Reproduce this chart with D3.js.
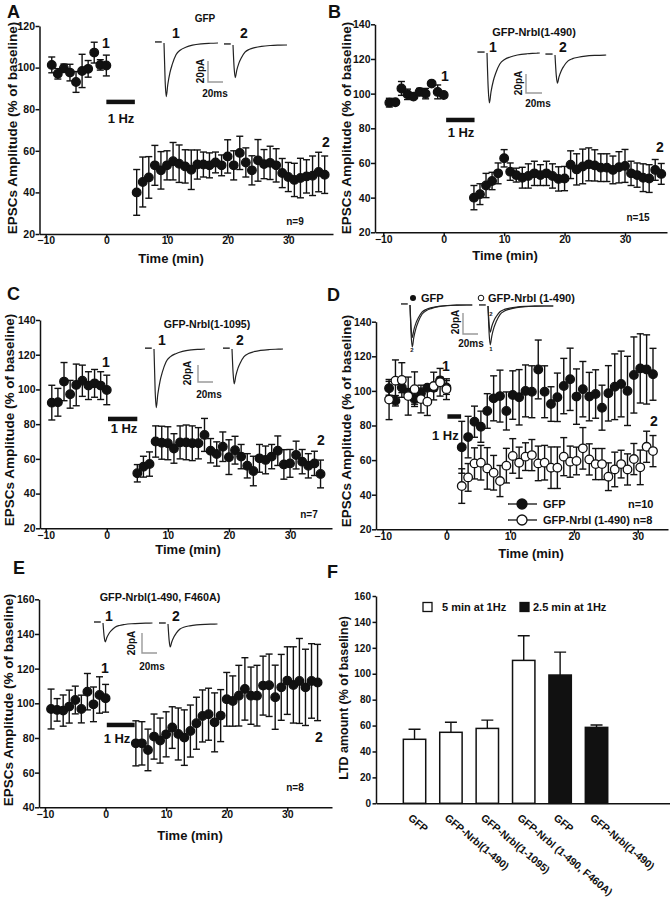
<!DOCTYPE html>
<html><head><meta charset="utf-8">
<script src="https://cdn.jsdelivr.net/npm/d3@7"></script>
<style>
body{margin:0;background:#fff}
svg text{font-family:"Liberation Sans",Arial,Helvetica,sans-serif;font-weight:bold;fill:#111}
</style></head>
<body><svg id="fig" width="670" height="899"></svg>
<script>
// ---------------- DATA ----------------
const xTickValues = [-10, 0, 10, 20, 30];

// Panel A  (GFP)
const A_time = [-9,-8,-7,-6,-5,-4,-3,-2,-1,0,5,6,7,8,9,10,11,12,13,14,15,16,17,18,19,20,21,22,23,24,25,26,27,28,29,30,31,32,33,34,35,36];
const A_mean = [101.3,97,99.7,97.6,93.1,98.4,99.4,107.2,101.3,101,
  40,45,47.2,53,50.6,53,55,53.8,52.5,50.9,53.4,53.4,53,54.4,53,57.3,53,59,54.4,50.6,55.4,53.6,54.2,53,49.3,47.4,46,46.9,47.7,48,49.8,48.5];
const A_sem = [3.8,2.5,2,4,5,8,4,5,2.5,5,
  11,12,10,9.6,9,7,9,9,8,9.5,7,6,6,5,5,8,7,8,7,7,10,7,8,8,7,7,8,9.5,8,9.5,9.5,9];

// Panel B  (GFP-Nrbl(1-490))
const B_time = [-9,-8,-7,-6,-5,-4,-3,-2,-1,0,5,6,7,8,9,10,11,12,13,14,15,16,17,18,19,20,21,22,23,24,25,26,27,28,29,30,31,32,33,34,35,36];
const B_mean = [94.8,95,103,99.6,98.3,101,100,105.8,101,99.2,
  40,42,47,49.6,54,62.7,55,53,51.5,52.5,54,53,54,52.5,50.8,51,59,56.3,58,59.2,58.6,57.3,57.3,56,57.5,58.3,54,53,51.5,51,56,53.7];
const B_sem = [2.5,1,4,3,1,2,3,1,4,1.5,
  7,6,7,5,6,5,5,4,6,7,7,6,7,7,7,7,8,9,10,9.5,9,8,8,8,9,9.5,7,7,8,8,6,6];

// Panel C  (GFP-Nrbl(1-1095))
const C_time = [-9,-8,-7,-6,-5,-4,-3,-2,-1,0,5,6,7,8,9,10,11,12,13,14,15,16,17,18,19,20,21,22,23,24,25,26,27,28,29,30,31,32,33,34,35];
const C_mean = [92.4,92.6,104.5,97.2,102.6,105,102.2,103.5,102.2,99.7,
  51.7,55.5,57,70,69.3,69,66,69.5,69.5,69,69,73.8,64.7,62.8,67,61,65,61.3,56,53,60.3,59.4,61.3,64.7,56.8,57.4,62.2,58.4,56,57.4,51.3];
const C_sem = [10,8,11,8,12,9,8,8,8,8.5,
  5,6,7,9,9.5,9.5,8.5,9.5,10,10,9,9.5,7,7,8.5,10,8,7,7,8.5,8,8,7,8.5,8.5,8,8,7,7,7,8];

// Panel D  (2.5 min at 1 Hz)
const D_time = [-9,-8,-7,-6,-5,-4,-3,-2,-1,0,2.4,3.4,4.4,5.4,6.4,7.4,8.4,9.4,10.4,11.4,12.4,13.4,14.4,15.4,16.4,17.4,18.4,19.4,20.4,21.4,22.4,23.4,24.4,25.4,26.4,27.4,28.4,29.4,30.4,31.4,32.4];
const D_gfp_mean = [101.5,94.3,102,99,95.3,98.6,101.8,101.8,106,102,
  67.4,73.3,82.2,79.3,88.4,95.7,97,88.4,97.6,96.3,100,99.5,112.4,99.5,92.4,96.3,102.8,106.7,96.7,101,96.7,98.2,90.3,98.6,102.4,104,100,109.2,113,112.4,109.6];
const D_gfp_sem = [4,3,3,2,3,3,1,2,2,4,
  15,12,9,9,10,13,15,11,14,16,15,15,17,15,10,14,16,18,16,16,14,14,13,16,19,19,20,22,20,20,15];
const D_nrbl_mean = [95,105.9,106.3,97,101,95.3,93.8,102.8,105,101,
  45,50,58.1,58.5,55.2,52.7,47.9,56.8,62.4,58.5,62,62.9,58.1,58.5,55.6,55.6,62,59.1,59.5,66.8,60.4,57.7,57.7,50.4,54.6,57.7,54.6,60.6,55.8,67.7,65.2];
const D_nrbl_sem = [11.6,12,10,11,10,8,8,8,8,6,
  10,8,9,10,12,10,9,10,10,9,8,9,10,10,12,12,11,9,8,12,9,9,9,8,10,8,9,9,10,9,9];

// Panel E  (GFP-Nrbl(1-490, F460A))
const E_time = [-9,-8,-7,-6,-5,-4,-3,-2,-1,0,5,6,7,8,9,10,11,12,13,14,15,16,17,18,19,20,21,22,23,24,25,26,27,28,29,30,31,32,33,34,35];
const E_mean = [96.7,96.2,95.8,98.1,101.9,96.7,106.7,99.4,104.8,102.9,
  76.9,76.9,73.1,80.8,78.5,82.1,86,82.3,80.2,84,88.5,92.7,93.7,89,92.9,102.3,101.3,104.4,108.3,104.4,104.4,110.2,110.4,103.5,109.2,113.1,110.6,112.9,109.2,112.9,112];
const E_sem = [11.5,6.5,9,9.5,8,8,10.5,10,10.5,8,
  13,12.5,12,13,13,13,12,15,16,15,15,15,15,17,15,15.5,14.5,17.5,18,16.5,17.5,17,18,18.5,19,19.5,22,24.5,22,21.5,22];

// Panel F  (LTD amount)
const F_labels = ["GFP","GFP-Nrbl(1-490)","GFP-Nrbl(1-1095)","GFP-Nrbl (1-490, F460A)","GFP","GFP-Nrbl(1-490)"];
const F_values = [49.4,54.8,57.8,110.3,99,58.6];
const F_errors = [7.7,7.7,6.4,19,17.7,1.8];
const F_protocol = ["5 min at 1Hz","5 min at 1Hz","5 min at 1Hz","5 min at 1Hz","2.5 min at 1Hz","2.5 min at 1Hz"];
const F_legend = ["5 min at 1Hz","2.5 min at 1Hz"];

// EPSC example trace shape (time in ms, fraction of peak)
const TRACE_MS   = [0,1.5,3,5,8,11,16,22,29,38,50,62,75,90];
const TRACE_FRAC = [0,0.7,1,0.78,0.55,0.4,0.22,0.13,0.08,0.04,0.015,0.005,0,0];

// ---------------- DRAWING ----------------
const svg = d3.select("#fig");
const INK = "#111";
const FONT_TICK = 10.5;

function text(x, y, s, size, anchor, extra) {
  const t = svg.append("text").attr("x", x).attr("y", y).text(s)
    .attr("font-size", size).attr("text-anchor", anchor || "start");
  if (extra) extra(t);
  return t;
}
function vtext(cx, cy, s, size) {
  return svg.append("text").attr("transform", `translate(${cx},${cy}) rotate(-90)`)
    .attr("text-anchor", "middle").attr("dy", "0.35em").attr("font-size", size).text(s);
}

function timePanel(p) {
  const x = d3.scaleLinear().domain([-10, 30]).range(p.xPx);
  const y = d3.scaleLinear().domain(p.yDomain).range([p.bottom, p.top]);
  const xAxisScale = x.copy().domain([x.invert(p.left), x.invert(p.right)]).range([p.left, p.right]);

  const gx = svg.append("g").attr("transform", `translate(0,${p.bottom})`)
    .call(d3.axisBottom(xAxisScale).tickValues(xTickValues).tickSize(4).tickSizeOuter(0).tickPadding(0));
  gx.selectAll("text").attr("y", 3).attr("dy", "0.71em").attr("font-size", FONT_TICK).attr("font-family", null);
  const gy = svg.append("g").attr("transform", `translate(${p.left},0)`)
    .call(d3.axisLeft(y).tickValues(d3.range(p.yDomain[0], p.yDomain[1] + 1, 20)).tickSize(4).tickSizeOuter(0).tickPadding(0));
  gy.selectAll("text").attr("x", -4.5).attr("font-size", FONT_TICK).attr("font-family", null);
  [gx, gy].forEach(g => {
    g.select(".domain").attr("stroke", INK).attr("stroke-width", 1.5);
    g.selectAll(".tick line").attr("stroke", INK).attr("stroke-width", 1.5);
    g.selectAll("text").style("fill", INK);
  });

  // stimulation bar
  svg.append("line").attr("x1", x(p.stim[0])).attr("x2", x(p.stim[1]))
    .attr("y1", y(p.stim[2])).attr("y2", y(p.stim[2]))
    .attr("stroke", INK).attr("stroke-width", 4.5);

  p.series.forEach(s => {
    const g = svg.append("g");
    const pts = s.time.map((t, i) => ({t, m: s.mean[i], e: s.sem[i]}));
    g.selectAll(".eb").data(pts).join("line")
      .attr("x1", d => x(d.t)).attr("x2", d => x(d.t))
      .attr("y1", d => y(d.m - d.e)).attr("y2", d => y(d.m + d.e))
      .attr("stroke", INK).attr("stroke-width", 1.4);
    ["lo", "hi"].forEach(k => {
      g.selectAll(".cap" + k).data(pts).join("line")
        .attr("x1", d => x(d.t) - 3.5).attr("x2", d => x(d.t) + 3.5)
        .attr("y1", d => y(k === "lo" ? d.m - d.e : d.m + d.e))
        .attr("y2", d => y(k === "lo" ? d.m - d.e : d.m + d.e))
        .attr("stroke", INK).attr("stroke-width", 1.4);
    });
    g.selectAll("circle").data(pts).join("circle")
      .attr("cx", d => x(d.t)).attr("cy", d => y(d.m)).attr("r", 4.3)
      .attr("fill", s.open ? "#fff" : INK).attr("stroke", INK).attr("stroke-width", 1.3);
  });
  return {x, y};
}

function trace(x0, y0, ampPA, lenMs, pxPerMs, pxPerPA, dashGap) {
  const tx = d3.scaleLinear().domain([0, 20]).range([x0, x0 + 20 * pxPerMs]);
  const ty = d3.scaleLinear().domain([0, 20]).range([y0, y0 + 20 * pxPerPA]);
  const pts = TRACE_MS.map((t, i) => [t, TRACE_FRAC[i] * ampPA]).filter(d => d[0] <= lenMs);
  pts.push([lenMs, 0]);
  svg.append("path").attr("d", d3.line().x(d => tx(d[0])).y(d => ty(d[1])).curve(d3.curveMonotoneX)(pts))
    .attr("fill", "none").attr("stroke", "#222").attr("stroke-width", 1.2);
  if (dashGap !== false) {
    svg.append("line").attr("x1", tx(-12)).attr("x2", tx(-3)).attr("y1", ty(-1)).attr("y2", ty(-1))
      .attr("stroke", "#222").attr("stroke-width", 1.4);
  }
}
function scaleBar(x0, yBottom, pxPerMs, pxPerPA) {
  const tx = d3.scaleLinear().domain([0, 20]).range([x0, x0 + 20 * pxPerMs]);
  const ty = d3.scaleLinear().domain([0, 20]).range([yBottom, yBottom - 20 * pxPerPA]);
  svg.append("path").attr("d", `M${tx(0)},${ty(20)}L${tx(0)},${ty(0)}L${tx(20)},${ty(0)}`)
    .attr("fill", "none").attr("stroke", "#9a9a9a").attr("stroke-width", 1.4);
}

// ---- Panel A
timePanel({left: 39.5, right: 333, top: 26, bottom: 234, xPx: [45.7, 288.3], yDomain: [20, 120],
  stim: [0, 4.7, 83.5], series: [{time: A_time, mean: A_mean, sem: A_sem}]});
vtext(12.5, 128, "EPSCs Amplitude (% of baseline)", 13.5);
text(171, 263, "Time (min)", 13, "middle");
text(106, 48, "1", 14, "middle"); text(326, 147, "2", 14, "middle");
text(121, 123, "1 Hz", 13, "middle");
text(295, 225, "n=9", 10, "middle");
text(205, 22, "GFP", 10, "middle");
text(176, 38, "1", 14, "middle"); text(244, 38, "2", 14, "middle");
trace(164, 43, 51, 72, 0.75, 1.05); trace(233, 45, 31, 72, 0.75, 1.05);
scaleBar(208, 82, 0.75, 1.05);
vtext(200, 71, "20pA", 10); text(215, 97, "20ms", 10, "middle");

// ---- Panel B
timePanel({left: 375, right: 667, top: 24.3, bottom: 232.3, xPx: [383.3, 625], yDomain: [20, 140],
  stim: [0.4, 5.1, 84.8], series: [{time: B_time, mean: B_mean, sem: B_sem}]});
vtext(346, 128, "EPSCs Amplitude (% of baseline)", 13.5);
text(505, 260, "Time (min)", 13, "middle");
text(445, 81, "1", 14, "middle"); text(660, 152, "2", 14, "middle");
text(461, 137, "1 Hz", 13, "middle");
text(638, 221, "n=15", 10, "middle");
text(534, 36, "GFP-Nrbl(1-490)", 11, "middle");
text(493, 52, "1", 14, "middle"); text(563, 52, "2", 14, "middle");
trace(487, 53, 52.6, 66, 0.8, 0.95); trace(555, 55, 29.5, 64, 0.8, 0.95);
scaleBar(526, 93, 0.8, 0.95);
vtext(518, 83, "20pA", 10); text(538, 107, "20ms", 10, "middle");

// ---- Panel C
timePanel({left: 40, right: 332, top: 320, bottom: 528.3, xPx: [45.7, 290], yDomain: [20, 140],
  stim: [0.2, 5, 83], series: [{time: C_time, mean: C_mean, sem: C_sem}]});
vtext(9, 420, "EPSCs Amplitude (% of baseline)", 13.5);
text(188, 554, "Time (min)", 13, "middle");
text(106, 367, "1", 14, "middle"); text(321, 445, "2", 14, "middle");
text(124, 433, "1 Hz", 13, "middle");
text(309, 518, "n=7", 10, "middle");
text(207, 328, "GFP-Nrbl(1-1095)", 10.6, "middle");
text(162, 345, "1", 14, "middle"); text(240, 345, "2", 14, "middle");
trace(154, 349, 69, 68, 0.75, 0.85); trace(232, 349, 41, 68, 0.75, 0.85);
scaleBar(198, 382, 0.75, 0.85);
vtext(187, 373, "20pA", 10); text(209, 398, "20ms", 10, "middle");

// ---- Panel D
timePanel({left: 376, right: 668, top: 321.7, bottom: 529.3, xPx: [382.7, 637.7], yDomain: [20, 140],
  stim: [0.15, 2.3, 85.2], series: [
    {time: D_time, mean: D_gfp_mean, sem: D_gfp_sem},
    {time: D_time, mean: D_nrbl_mean, sem: D_nrbl_sem, open: true}]});
vtext(346, 421, "EPSCs Amplitude (% of baseline)", 13.5);
text(531, 558, "Time (min)", 13, "middle");
text(446, 371, "1", 14, "middle"); text(654, 426, "2", 14, "middle");
text(432, 440, "1 Hz", 13, "start");
// legend
[["GFP", "n=10", false, 504], ["GFP-Nrbl (1-490)", "n=8", true, 520]].forEach(([lab, n, open, yy]) => {
  svg.append("line").attr("x1", 508).attr("x2", 537).attr("y1", yy).attr("y2", yy).attr("stroke", INK).attr("stroke-width", 1.3);
  svg.append("circle").attr("cx", 522).attr("cy", yy).attr("r", 5).attr("fill", open ? "#fff" : INK).attr("stroke", INK).attr("stroke-width", 1.3);
  text(543, yy + 4, lab, 11, "start");
  text(open ? 633 : 628, yy + 4, n, 11, "start");
});
// inset
svg.append("circle").attr("cx", 413).attr("cy", 298).attr("r", 3).attr("fill", INK);
text(421, 302, "GFP", 11, "start");
svg.append("circle").attr("cx", 481).attr("cy", 298).attr("r", 2.8).attr("fill", "#fff").attr("stroke", INK).attr("stroke-width", 1);
text(488, 302, "GFP-Nrbl (1-490)", 11, "start");
trace(410, 305, 31, 83, 0.75, 1.05); trace(410, 305, 40, 83, 0.75, 1.05, false);
trace(488, 306, 37, 87, 0.75, 1.05); trace(488, 306, 25, 87, 0.75, 1.05, false);
scaleBar(463, 334, 0.75, 1.05);
vtext(455, 322, "20pA", 10); text(471, 347, "20ms", 10, "middle");
text(412, 352, "2", 6, "middle"); text(491, 351, "1", 6, "middle"); text(491, 316, "2", 6, "middle");

// ---- Panel E
timePanel({left: 39, right: 332, top: 599.3, bottom: 807.3, xPx: [45, 287.3], yDomain: [40, 160],
  stim: [0.2, 4.8, 87.5], series: [{time: E_time, mean: E_mean, sem: E_sem}]});
vtext(8.5, 700, "EPSCs Amplitude (% of baseline)", 13.5);
text(190, 840, "Time (min)", 13, "middle");
text(105, 673, "1", 14, "middle"); text(319, 742, "2", 14, "middle");
text(117, 743, "1 Hz", 13, "middle");
text(295, 791, "n=8", 10, "middle");
text(160, 601, "GFP-Nrbl(1-490, F460A)", 10.8, "middle");
text(109, 621, "1", 14, "middle"); text(176, 621, "2", 14, "middle");
trace(103, 623, 19, 66, 0.75, 1.0); trace(168, 624, 23, 66, 0.75, 1.0);
scaleBar(142, 653, 0.75, 1.0);
vtext(131, 643, "20pA", 10); text(152, 670, "20ms", 10, "middle");

// ---- Panel F
(function () {
  const left = 376, right = 670, top = 596, bottom = 803.3;
  const x = d3.scaleBand().domain(d3.range(F_values.length)).range([left, right])
    .paddingInner(0.385).paddingOuter(1.231).align(0.305);
  const y = d3.scaleLinear().domain([0, 160]).range([bottom, top]);
  const color = d3.scaleOrdinal().domain(F_legend).range(["#fff", "#111"]);

  const gy = svg.append("g").attr("transform", `translate(${left},0)`)
    .call(d3.axisLeft(y).tickValues(d3.range(0, 161, 20)).tickSize(3.5).tickSizeOuter(0).tickPadding(0));
  gy.selectAll("text").attr("x", -5).attr("font-size", 10).attr("font-family", null).style("fill", INK);
  const gx = svg.append("g").attr("transform", `translate(0,${bottom})`)
    .call(d3.axisBottom(x).tickSize(0).tickSizeOuter(0).tickFormat(""));
  [gx, gy].forEach(g => {
    g.select(".domain").attr("stroke", INK).attr("stroke-width", 1.5);
    g.selectAll(".tick line").attr("stroke", INK).attr("stroke-width", 1.5);
  });

  const idx = d3.range(F_values.length);
  svg.selectAll(".ferr").data(idx).join("path")
    .attr("d", i => `M${x(i) + x.bandwidth() / 2},${y(F_values[i])}V${y(F_values[i] + F_errors[i])}M${x(i) + x.bandwidth() / 2 - 6},${y(F_values[i] + F_errors[i])}h12`)
    .attr("stroke", INK).attr("stroke-width", 1.4).attr("fill", "none");
  svg.selectAll(".fbar").data(idx).join("rect")
    .attr("x", i => x(i)).attr("width", x.bandwidth())
    .attr("y", i => y(F_values[i])).attr("height", i => bottom - y(F_values[i]))
    .attr("fill", i => color(F_protocol[i])).attr("stroke", INK).attr("stroke-width", 1.5);
  idx.forEach(i => {
    const cx = x(i) + x.bandwidth() / 2 - 7;
    svg.append("text").attr("transform", `translate(${cx},819) rotate(40)`)
      .attr("font-size", 10.5).text(F_labels[i]);
  });
  vtext(344, 698, "LTD amount (% of baseline)", 12.5);
  // legend
  [[423, F_legend[0]], [520, F_legend[1]]].forEach(([lx, lab]) => {
    svg.append("rect").attr("x", lx).attr("y", 602.5).attr("width", 9).attr("height", 9)
      .attr("fill", color(lab)).attr("stroke", INK).attr("stroke-width", 1.3);
    text(lx + (lab === F_legend[0] ? 19 : 13), 611, lab, 11, "start");
  });
})();

// Panel letters
[["A", 7, 18], ["B", 328, 18], ["C", 7, 300], ["D", 327, 301], ["E", 13, 574], ["F", 327, 578]]
  .forEach(([l, lx, ly]) => text(lx, ly, l, 18, "start"));
</script>
</body></html>
